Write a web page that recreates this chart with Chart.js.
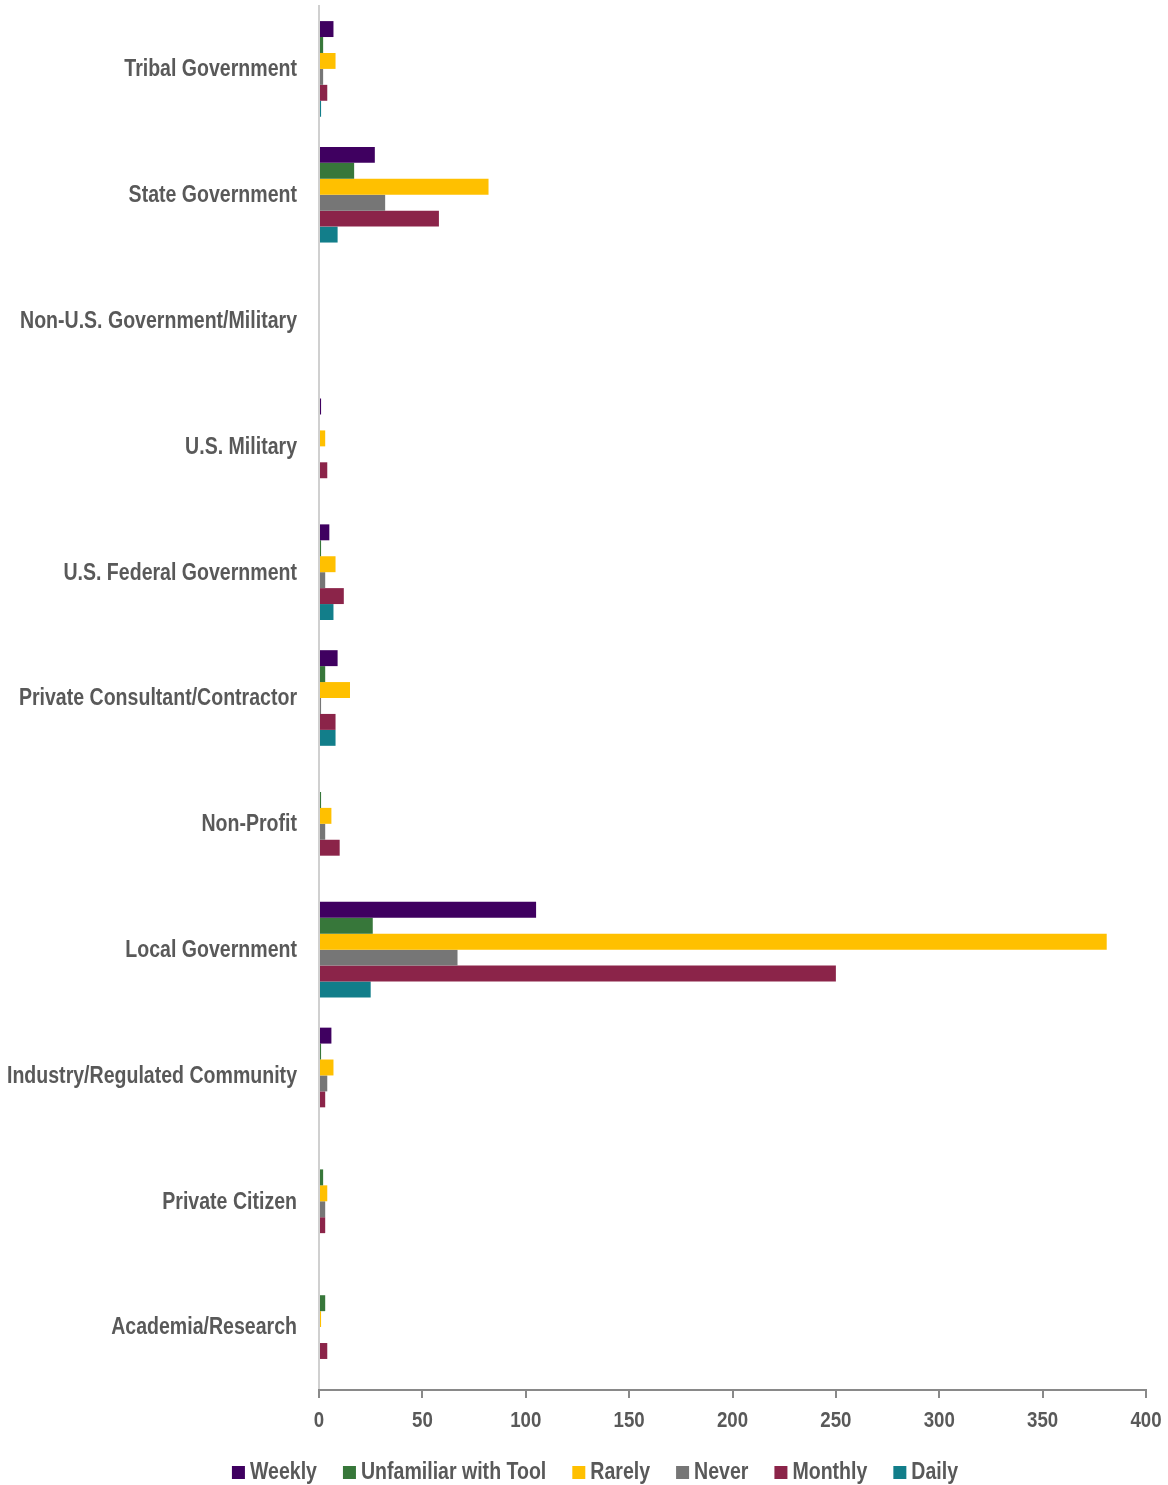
<!DOCTYPE html>
<html>
<head>
<meta charset="utf-8">
<script src="https://cdn.jsdelivr.net/npm/chart.js@4/dist/chart.umd.min.js"></script>
<style>
  html, body { margin: 0; padding: 0; background: #fff; }
  #wrap { width: 1168px; height: 1485px; }
</style>
</head>
<body>
<div id="wrap"><canvas id="chart"></canvas></div>
<script>
const categories = [
  "Tribal Government",
  "State Government",
  "Non-U.S. Government/Military",
  "U.S. Military",
  "U.S. Federal Government",
  "Private Consultant/Contractor",
  "Non-Profit",
  "Local Government",
  "Industry/Regulated Community",
  "Private Citizen",
  "Academia/Research"
];

const weekly      = [7, 27, 0, 1, 5, 9, 0, 105, 6, 0, 0];
const unfamiliar  = [2, 17, 0, 0, 1, 3, 1, 26, 1, 2, 3];
const rarely      = [8, 82, 0, 3, 8, 15, 6, 381, 7, 4, 1];
const never       = [2, 32, 0, 0, 3, 1, 3, 67, 4, 3, 0];
const monthly     = [4, 58, 0, 4, 12, 8, 10, 250, 3, 3, 4];
const daily       = [1, 9, 0, 0, 7, 8, 0, 25, 0, 0, 0];

const seriesNames = ["Weekly", "Unfamiliar with Tool", "Rarely", "Never", "Monthly", "Daily"];
const seriesColors = ["#3f0060", "#37773a", "#ffc000", "#767676", "#8b2449", "#127e8a"];
const seriesValues = [weekly, unfamiliar, rarely, never, monthly, daily];

const FONT = "'Liberation Sans', Arial, sans-serif";
const TEXT = "#595959";
const SQUEEZE = 0.85; // fake the narrow font by squeezing text horizontally

const datasets = seriesNames.map((name, i) => ({
  label: name,
  data: seriesValues[i],
  backgroundColor: seriesColors[i],
  borderWidth: 0,
  categoryPercentage: 0.76,
  barPercentage: 1.0
}));

function narrowText(ctx, text, x, y, align) {
  ctx.save();
  ctx.translate(x, y);
  ctx.scale(SQUEEZE, 1);
  ctx.textAlign = align;
  ctx.fillText(text, 0, 0);
  ctx.restore();
}

// tick labels and legend drawn squeezed, positions come from the chart scales
const narrowLabels = {
  id: "narrowLabels",
  afterDraw(chart) {
    const ctx = chart.ctx;
    const ys = chart.scales.y, xs = chart.scales.x;
    ctx.save();
    ctx.fillStyle = TEXT;
    ctx.textBaseline = "middle";
    ctx.font = `bold 23px ${FONT}`;
    ys.ticks.forEach((t, i) => {
      narrowText(ctx, ys.getLabelForValue(t.value), ys.right - 22, ys.getPixelForTick(i) + 1, "right");
    });

    ctx.font = `bold 22px ${FONT}`;
    xs.ticks.forEach((t, i) => {
      narrowText(ctx, String(t.value), xs.getPixelForTick(i), xs.top + 31, "center");
    });

    // legend
    ctx.font = `bold 23px ${FONT}`;
    const box = 13, gap = 5, spacing = 26;
    const items = chart.data.datasets.map(d => ({
      label: d.label, color: d.backgroundColor,
      w: box + gap + ctx.measureText(d.label).width * SQUEEZE
    }));
    const total = items.reduce((s, it) => s + it.w, 0) + spacing * (items.length - 1);
    let x = 595 - total / 2;
    const ly = chart.height - 13;
    items.forEach(it => {
      ctx.fillStyle = it.color;
      ctx.fillRect(x, ly - 6, box, box);
      ctx.fillStyle = TEXT;
      narrowText(ctx, it.label, x + box + gap, ly + 1, "left");
      x += it.w + spacing;
    });
    ctx.restore();
  }
};

new Chart(document.getElementById("chart"), {
  type: "bar",
  data: { labels: categories, datasets },
  plugins: [narrowLabels],
  options: {
    indexAxis: "y",
    responsive: true,
    maintainAspectRatio: false,
    animation: false,
    layout: { padding: { top: 6, right: 22, left: 0, bottom: 0 } },
    plugins: {
      tooltip: { enabled: false },
      legend: { display: false }
    },
    scales: {
      y: {
        afterFit: s => { s.width = 319; },
        grid: { display: false },
        border: { display: true, color: "#d0d0d0", width: 2 },
        ticks: { display: false }
      },
      x: {
        min: 0,
        max: 400,
        afterFit: s => { s.height = 95; },
        grid: { display: true, drawOnChartArea: false, drawTicks: true, tickLength: 8, color: "#898989", lineWidth: 2 },
        border: { display: true, color: "#898989", width: 2 },
        ticks: { display: false, stepSize: 50 }
      }
    }
  }
});
</script>
</body>
</html>
